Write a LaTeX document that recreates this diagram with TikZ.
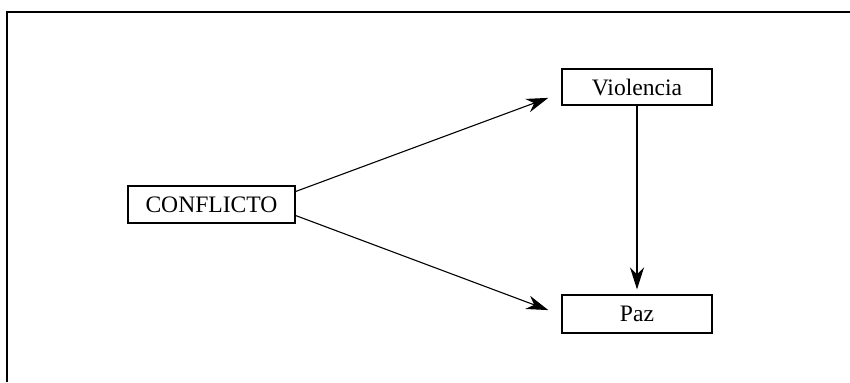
\documentclass[tikz,border=0pt]{standalone}
\usepackage{fontspec}
\setmainfont{Liberation Serif}
\usetikzlibrary{positioning, arrows.meta}

\begin{document}
\begin{tikzpicture}[
    x=0.5pt, y=-0.5pt,
    box/.style={draw, rectangle, line width=0.6pt, minimum width=75pt, minimum height=18pt, inner sep=0pt, fill=white, font=\fontsize{11.8}{14}\selectfont},
    arrow/.style={-{Stealth[length=11pt, width=7pt, inset=3.5pt]}, line width=0.55pt}
]
    \useasboundingbox (0,0) rectangle (850,382);

    % --- Frame ---
    \draw[line width=1pt] (7,382) -- (7,12) -- (850,12);

    % --- Nodes ---
    \node[box, minimum width=83.5pt, minimum height=18.5pt] (conf) at (211.5, 204.5) {CONFLICTO};
    \node[box] (vio) at (637, 87) {Violencia};
    \node[box, minimum height=19pt] (paz) at (637, 314) {Paz};

    % --- Arrows ---
    \draw[arrow, shorten >=7pt] ([yshift=6.5pt]conf.east) -- ([yshift=-3pt]vio.west);
    \draw[arrow, shorten >=7pt] ([yshift=-5.5pt]conf.east) -- ([yshift=-0.5pt]paz.west);
    \draw[arrow, shorten >=2.5pt] (vio.south) -- (paz.north);

\end{tikzpicture}
\end{document}
